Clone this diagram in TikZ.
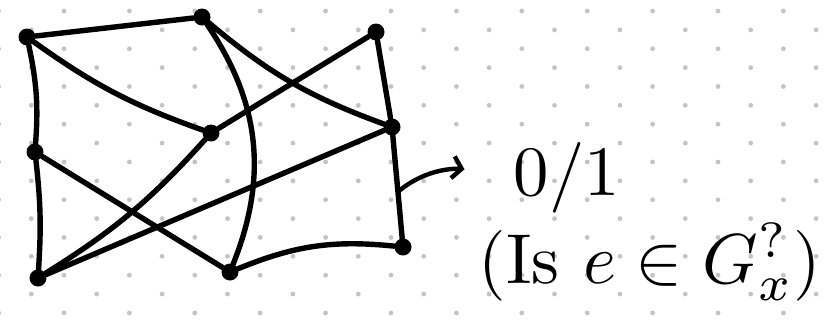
\documentclass[tikz,border=0pt]{standalone}
\usepackage{graphicx}
\usetikzlibrary{positioning, arrows.meta, calc}
\definecolor{gDot}{HTML}{C4C4C4}
\definecolor{gInk}{HTML}{000000}
\newcommand{\bigtext}[1]{\scalebox{7.1}{#1}}

\begin{document}
\begin{tikzpicture}[
  x=1bp, y=1bp,
  vertex/.style={circle, fill=gInk, inner sep=0pt, minimum size=17bp},
  edge/.style={gInk, line width=5.4bp, line cap=round, line join=round},
]
  % Background with dot grid
  \useasboundingbox (0,0) rectangle (836,-327);
  \fill[white] (0,0) rectangle (836,-327);
  \begin{scope}
    \clip (0,0) rectangle (836,-327);
    \foreach \j in {0,...,17} {
      \pgfmathsetmacro{\xoff}{mod(\j,2)*32.7-1.4}
      \foreach \i in {0,...,13} {
        \fill[gDot] ({\xoff+65.4*\i},{-11-18.87*\j}) circle (2.4bp);
      }
    }
  \end{scope}

  % Vertices
  \node[vertex] (A) at (27,-37) {};
  \node[vertex] (B) at (202,-17) {};
  \node[vertex] (C) at (376,-32) {};
  \node[vertex] (D) at (35,-152) {};
  \node[vertex] (E) at (211,-133) {};
  \node[vertex] (F) at (392,-127) {};
  \node[vertex] (G) at (38,-278) {};
  \node[vertex] (H) at (230,-272) {};
  \node[vertex] (I) at (403,-247) {};

  % Edges
  \draw[edge] (A) -- (B);
  \draw[edge] (A) to[bend left=8] (D);
  \draw[edge] (D) to[bend left=5] (G);
  \draw[edge] (A) to[bend right=8] (E);
  \draw[edge] (B) to[bend right=10] (F);
  \draw[edge] (B) to[bend left=28] (H);
  \draw[edge] (C) -- (E);
  \draw[edge] (E) to[bend left=8] (G);
  \draw[edge] (C) -- (F);
  \draw[edge] (F) -- (I);
  \draw[edge] (D) -- (H);
  \draw[edge] (G) -- (F);
  \draw[edge] (H) to[bend left=14] (I);

  % Output
  \coordinate (fi) at ($(F)!0.54!(I)$);
  \node[inner sep=0pt] (ans) at (567,-178) {\bigtext{0/1}};
  \node[inner sep=0pt] (qst) at (650,-262) {\bigtext{(Is $e \in G_x^{?}$)}};
  \draw[edge, line width=4.4bp, -{Straight Barb[length=9bp, width=22bp]},
        shorten >=50bp] (fi) to[out=40, in=170] (ans.west);
\end{tikzpicture}
\end{document}
